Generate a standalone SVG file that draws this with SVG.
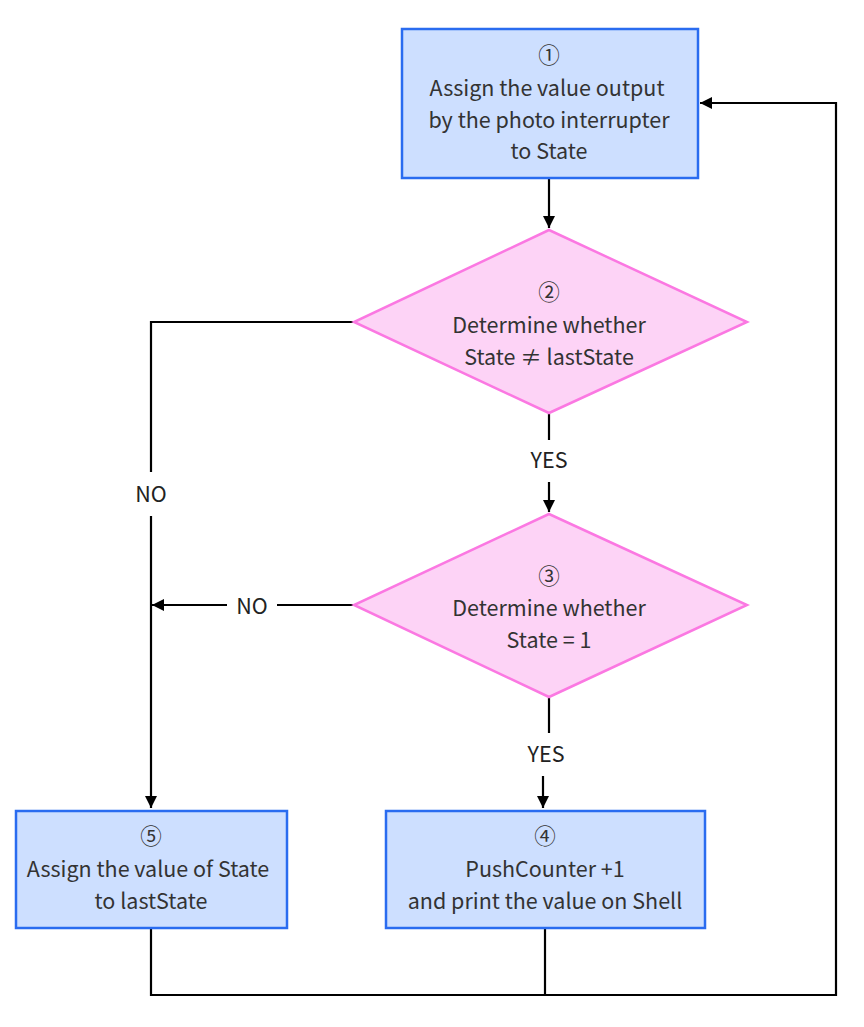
<svg xmlns="http://www.w3.org/2000/svg" width="864" height="1027" viewBox="0 0 864 1027">
<defs>
<marker id="arr" viewBox="0 0 12 12" refX="12" refY="6" markerWidth="12" markerHeight="12" markerUnits="userSpaceOnUse" orient="auto">
<path d="M0,0 L12,6 L0,12 Z" fill="#000"/>
</marker>
<style>
.box{fill:#cddfff;stroke:#2a6cf0;stroke-width:2.5}
.dia{fill:#fdd3f6;stroke:#fb78e2;stroke-width:2.5}
.t{font-family:"Noto Sans CJK SC","Noto Sans",sans-serif;font-size:21.5px;fill:#333;text-anchor:middle;dominant-baseline:central}
.n{font-family:"Noto Sans CJK SC","Noto Sans",sans-serif;font-size:21.5px;fill:#222;text-anchor:middle;dominant-baseline:central}
.c{fill:none;stroke:#000;stroke-width:2.2}
</style>
</defs>
<rect width="864" height="1027" fill="#fff"/>
<g id="connectors">
<path class="c" d="M549,179 V228" marker-end="url(#arr)"/>
<path class="c" d="M549,414 V440"/>
<path class="c" d="M549,482 V512" marker-end="url(#arr)"/>
<path class="c" d="M354,322 H151 V472"/>
<path class="c" d="M151,516 V808" marker-end="url(#arr)"/>
<path class="c" d="M354,605 H277"/>
<path class="c" d="M227,605 H152" marker-end="url(#arr)"/>
<path class="c" d="M549,698 V733"/>
<path class="c" d="M543,776 V808" marker-end="url(#arr)"/>
<path class="c" d="M151,929 V995 H836 V103 H700" marker-end="url(#arr)"/>
<path class="c" d="M545,929 V995"/>
<text class="n" x="549" y="458">YES</text>
<text class="n" x="151" y="492">NO</text>
<text class="n" x="252" y="604">NO</text>
<text class="n" x="546" y="752">YES</text>
</g>
<g id="node1">
<rect class="box" x="402" y="29" width="296" height="149"/>
<text class="t" x="549" y="53">①</text>
<text class="t" x="547" y="86">Assign the value output</text>
<text class="t" x="549" y="118">by the photo interrupter</text>
<text class="t" x="549" y="149">to State</text>
</g>
<g id="node2">
<polygon class="dia" points="549,230 747,322 549,413 354,322"/>
<text class="t" x="549" y="290">②</text>
<text class="t" x="549" y="323">Determine whether</text>
<text class="t" x="549" y="355">State ≠ lastState</text>
</g>
<g id="node3">
<polygon class="dia" points="549,514 747,605 549,697 354,605"/>
<text class="t" x="549" y="574">③</text>
<text class="t" x="549" y="606">Determine whether</text>
<text class="t" x="549" y="638">State = 1</text>
</g>
<g id="node4">
<rect class="box" x="386" y="811" width="319" height="117"/>
<text class="t" x="545" y="834">④</text>
<text class="t" x="545" y="867">PushCounter +1</text>
<text class="t" x="545" y="899">and print the value on Shell</text>
</g>
<g id="node5">
<rect class="box" x="16" y="811" width="271" height="117"/>
<text class="t" x="151" y="834">⑤</text>
<text class="t" x="148" y="867">Assign the value of State</text>
<text class="t" x="151" y="899">to lastState</text>
</g>
</svg>
